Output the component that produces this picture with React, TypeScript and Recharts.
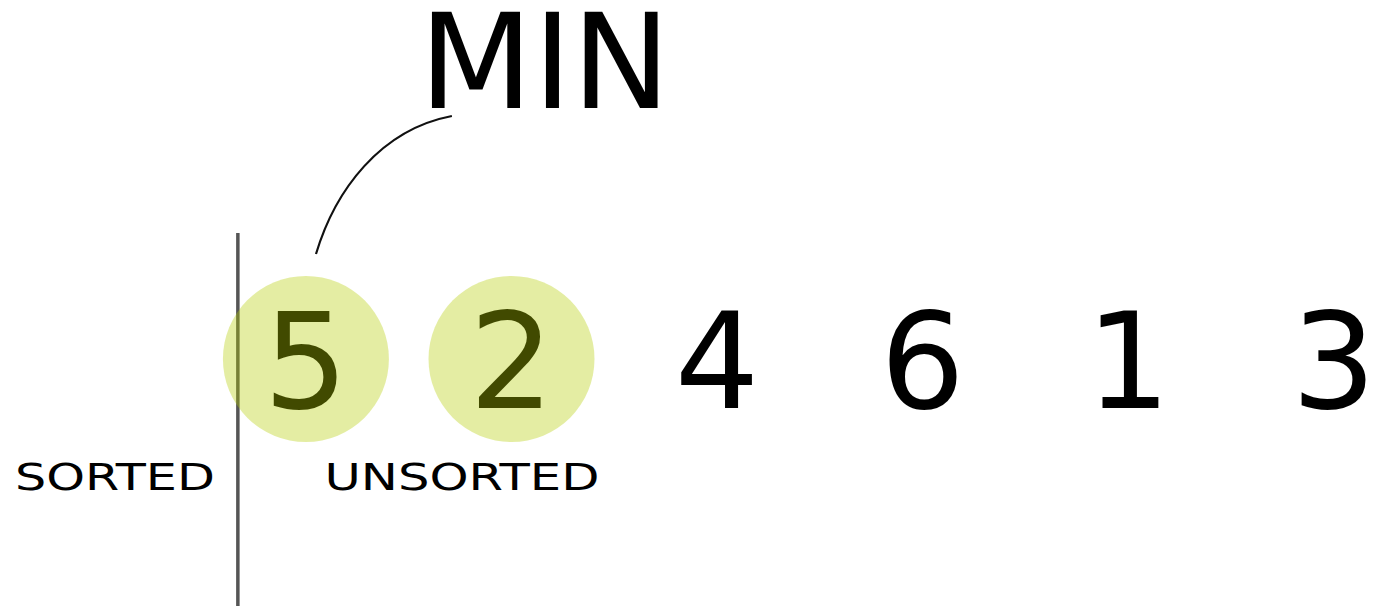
import React from 'react';
import { ComposedChart, Scatter, XAxis, YAxis } from 'recharts';

// ---- data ----
const values = [5, 2, 4, 6, 1, 3];
const positions = [0, 1, 2, 3, 4, 5];
const highlighted = [true, true, false, false, false, false];
const rowY = 359;

const xDomain: [number, number] = [-1.488, 5.205];
const yDomain: [number, number] = [0, 606];

const dividerX = -0.331;
const dividerYs = [233, 606];

const captions = ['SORTED', 'UNSORTED'];
const captionX = [-0.929, 0.759];
const captionY = [490, 490];
const captionLengths = [200, 275];

const minLabel = 'MIN';
const minLabelX = 1.162;
const minLabelY = 108;

const pointerXs = [0.71, 0.049];
const pointerYs = [116, 254];

// ---- derived tables ----
const digitData = values.map((v, i) => ({ x: positions[i], y: rowY, label: String(v), hl: highlighted[i] }));
const dividerData = dividerYs.map((y) => ({ x: dividerX, y }));
const captionData = captions.map((c, i) => ({ x: captionX[i], y: captionY[i], label: c, len: captionLengths[i] }));
const minData = [{ x: minLabelX, y: minLabelY, label: minLabel }];
const pointerData = pointerXs.map((x, i) => ({ x, y: pointerYs[i] }));

const FONT = '"DejaVu Sans", sans-serif';

const Empty = () => <g />;

const DigitText = (p: any) => (
  <text x={p.cx} y={p.cy + 49} textAnchor="middle" fontFamily={FONT} fontSize={133} fill="#000">
    {p.payload.label}
  </text>
);

const DigitCircle = (p: any) =>
  p.payload.hl ? <circle cx={p.cx} cy={p.cy} r={83} fill="#b3cd00" fillOpacity={0.36} /> : <g />;

const Caption = (p: any) => (
  <text
    x={p.cx}
    y={p.cy}
    textAnchor="middle"
    fontFamily={FONT}
    fontSize={37}
    fill="#000"
    textLength={p.payload.len}
    lengthAdjust="spacingAndGlyphs"
  >
    {p.payload.label}
  </text>
);

const MinText = (p: any) => (
  <text x={p.cx} y={p.cy} textAnchor="middle" fontFamily={FONT} fontSize={132} fill="#000">
    {p.payload.label}
  </text>
);

const PointerLine = (p: any) => {
  const pts = p.points || [];
  if (pts.length < 2) return <g />;
  const a = pts[0];
  const b = pts[1];
  const dx = b.x - a.x;
  const dy = b.y - a.y;
  const c1x = a.x + dx * 0.53;
  const c1y = a.y + dy * 0.1;
  const c2x = a.x + dx * 0.86;
  const c2y = a.y + dy * 0.54;
  return (
    <path
      d={`M${a.x},${a.y} C${c1x},${c1y} ${c2x},${c2y} ${b.x},${b.y}`}
      fill="none"
      stroke="#111"
      strokeWidth={2.2}
    />
  );
};

export default function App() {
  return (
    <div style={{ position: 'absolute', left: 0, top: 0, background: '#fff' }}>
      <ComposedChart width={1376} height={606} margin={{ top: 0, right: 0, bottom: 0, left: 0 }}>
        <XAxis type="number" dataKey="x" domain={xDomain} hide allowDataOverflow />
        <YAxis type="number" dataKey="y" domain={yDomain} reversed hide allowDataOverflow />
        <Scatter data={digitData} shape={DigitText} isAnimationActive={false} />
        <Scatter
          data={dividerData}
          shape={Empty}
          line={{ stroke: '#555555', strokeWidth: 3.5 }}
          isAnimationActive={false}
        />
        <Scatter data={digitData} shape={DigitCircle} isAnimationActive={false} />
        <Scatter data={captionData} shape={Caption} isAnimationActive={false} />
        <Scatter data={minData} shape={MinText} isAnimationActive={false} />
        <Scatter data={pointerData} shape={Empty} line={PointerLine} isAnimationActive={false} />
      </ComposedChart>
    </div>
  );
}
